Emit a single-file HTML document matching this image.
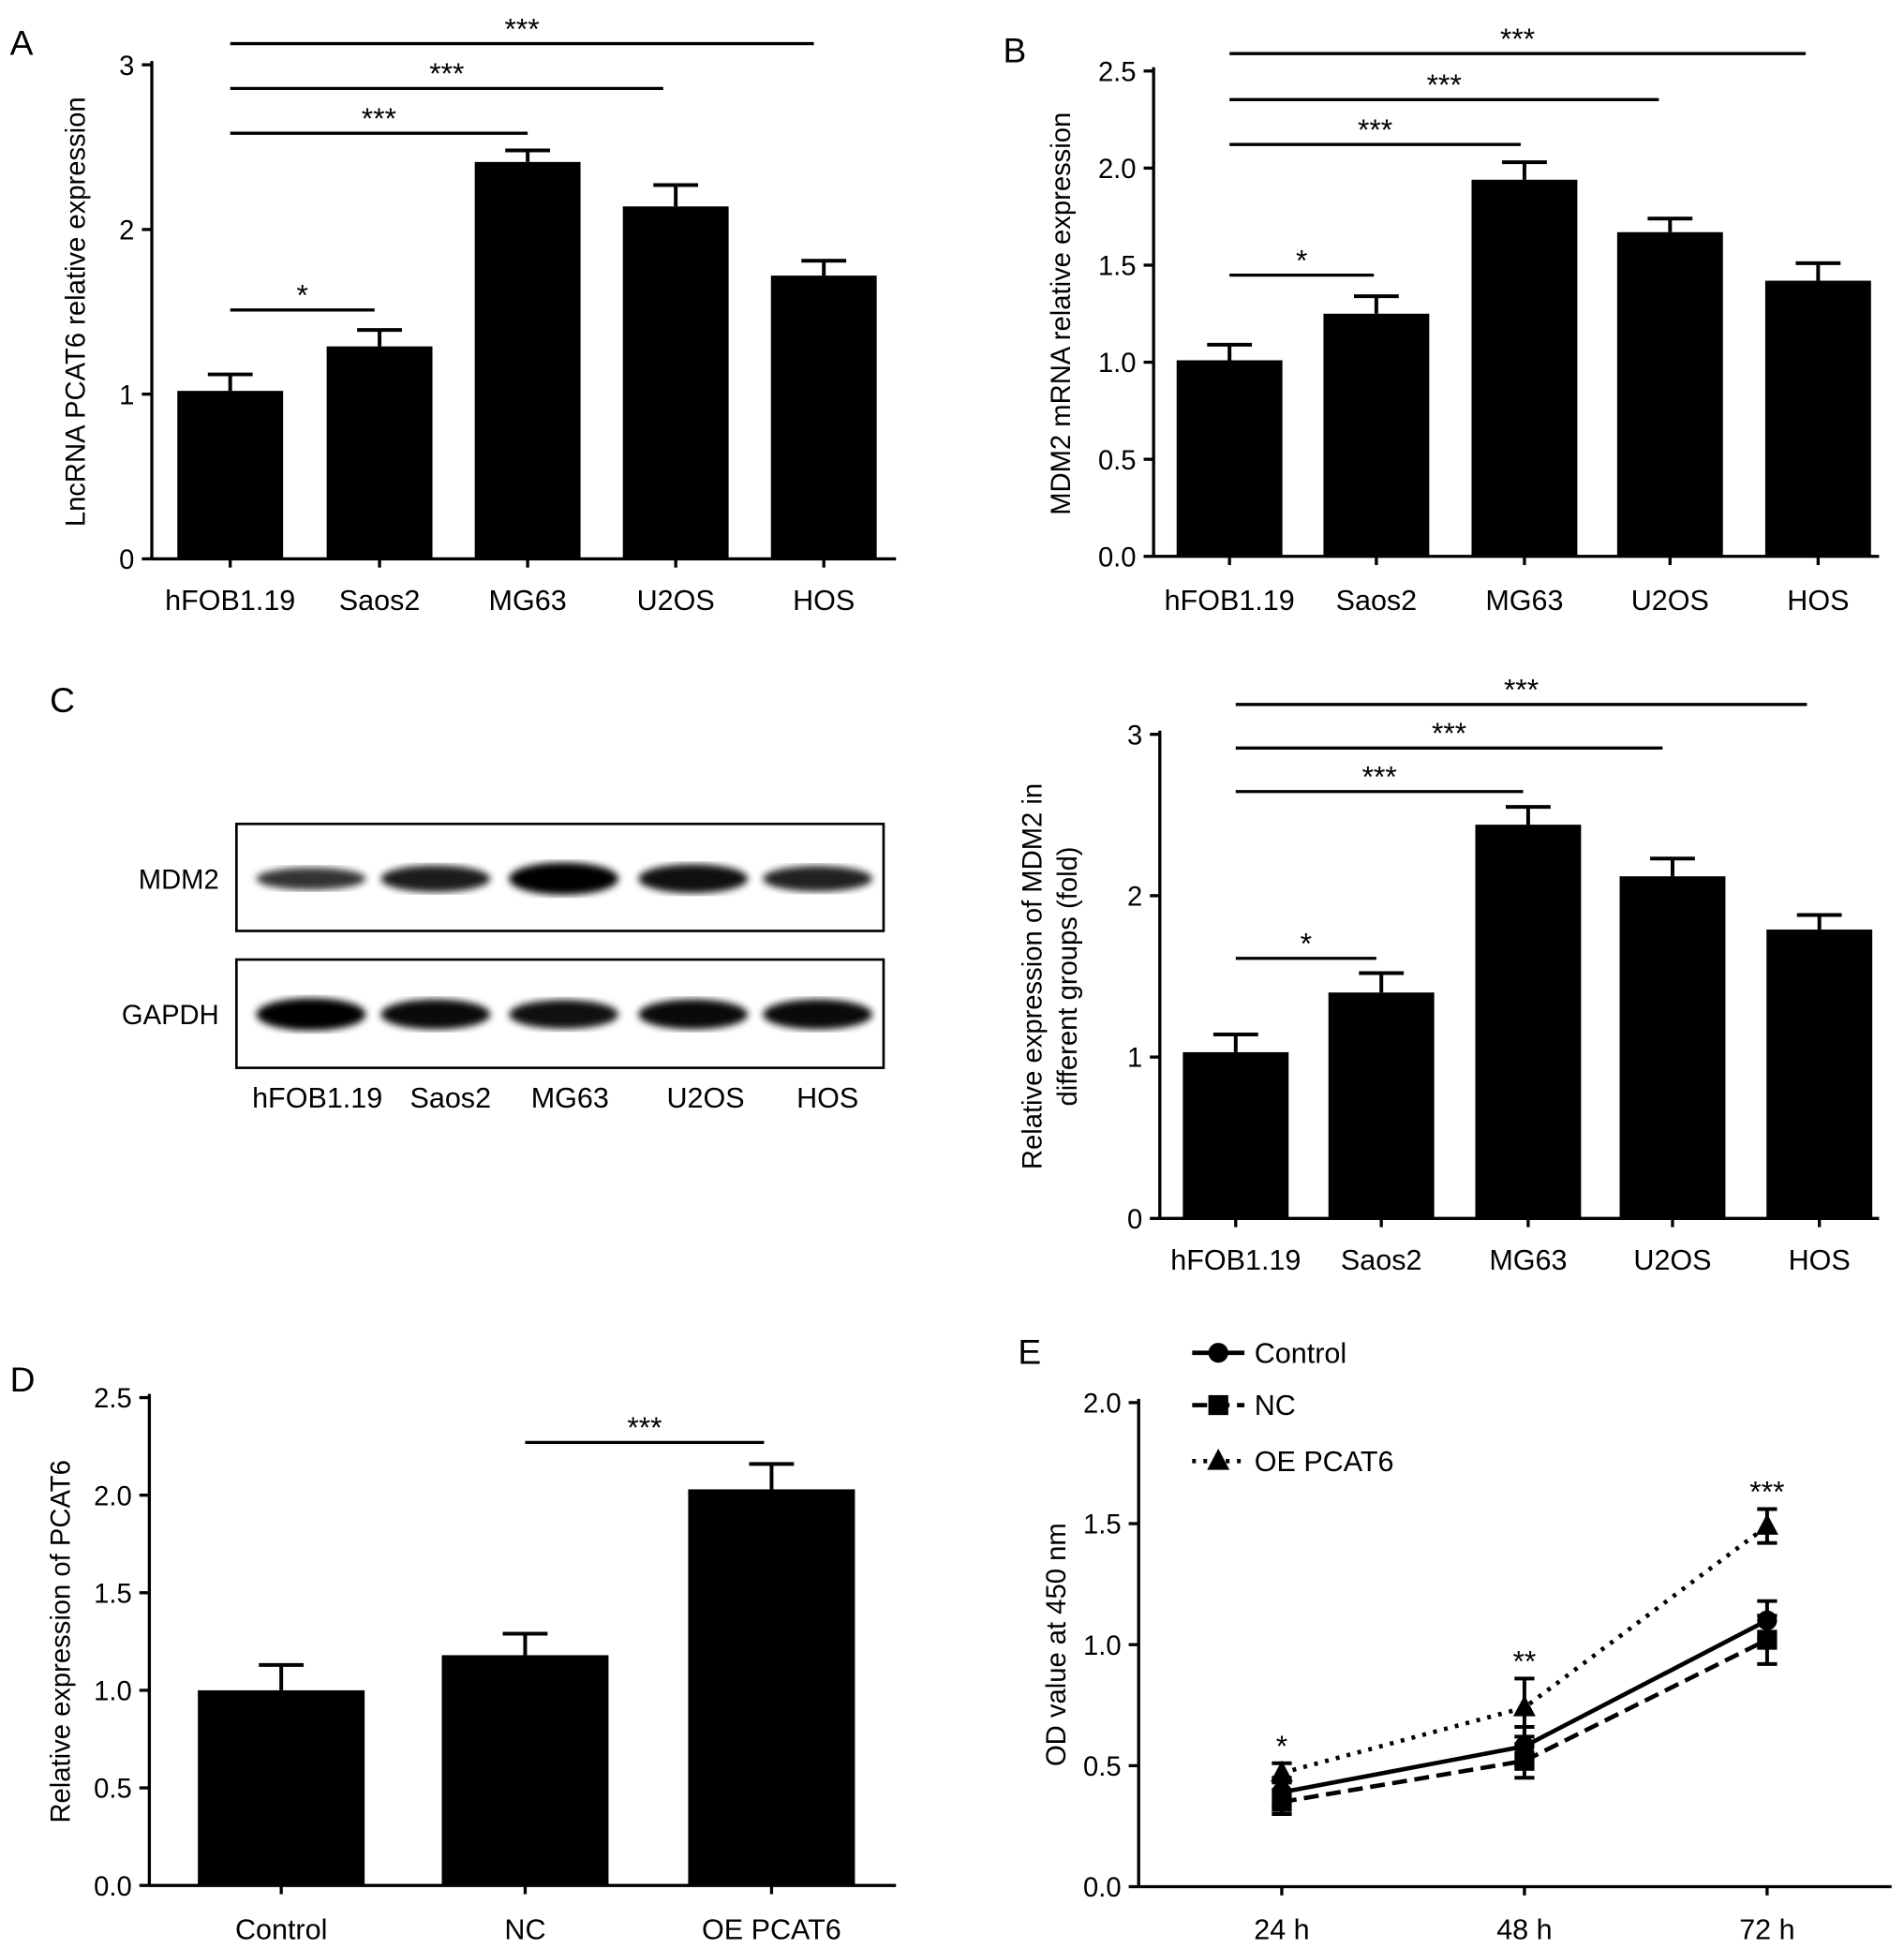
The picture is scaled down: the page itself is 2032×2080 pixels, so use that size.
<!DOCTYPE html>
<html><head><meta charset="utf-8"><style>html,body{margin:0;padding:0;background:#fff}svg{display:block}text{font-family:"Liberation Sans",sans-serif;fill:#000}</style></head>
<body>
<svg id="fig" width="2032" height="2080" viewBox="0 0 1530 1566" xmlns="http://www.w3.org/2000/svg"></svg>
<script>
const cellLines = ["hFOB1.19","Saos2","MG63","U2OS","HOS"];
const aValues = [1.02,1.29,2.41,2.14,1.72];
const aErr = [0.10,0.10,0.07,0.13,0.09];
const aTicks = [0,1,2,3];
const bValues = [1.01,1.25,1.94,1.67,1.42];
const bErr = [0.08,0.09,0.09,0.07,0.09];
const bTicks = ["0.0","0.5","1.0","1.5","2.0","2.5"];
const cValues = [1.03,1.40,2.44,2.12,1.79];
const cErr = [0.11,0.12,0.11,0.11,0.09];
const cTicks = [0,1,2,3];
const dGroups = ["Control","NC","OE PCAT6"];
const dValues = [1.00,1.18,2.03];
const dErr = [0.13,0.11,0.13];
const dTicks = ["0.0","0.5","1.0","1.5","2.0","2.5"];
const eTimes = ["24 h","48 h","72 h"];
const eControl = [0.39,0.58,1.10];
const eControlErr = [0.06,0.08,0.08];
const eNC = [0.35,0.52,1.02];
const eNCErr = [0.05,0.07,0.10];
const eOE = [0.47,0.74,1.49];
const eOEErr = [0.04,0.12,0.07];
const eTicks = ["0.0","0.5","1.0","1.5","2.0"];
const eStars = ["*","**","***"];
const blotMDM2 = [0.55,0.75,1.0,0.85,0.7];
const blotGAPDH = [1.0,0.9,0.85,0.9,0.9];

const NS="http://www.w3.org/2000/svg";
const svg=document.getElementById('fig');
function el(tag,attrs,parent,txt){const e=document.createElementNS(NS,tag);for(const k in attrs)e.setAttribute(k,attrs[k]);if(txt!==undefined)e.textContent=txt;(parent||svg).appendChild(e);return e;}
function g(name){const e=el('g',{});return e;}
function txt(p,x,y,s,size,anchor,name,extra){const t=el('text',Object.assign({x:x,y:y,'font-size':size,'text-anchor':anchor||'middle'},extra||{}),p,s);return t;}

function barPanel(o){
  const p=g(o.name);
  const ys=v=>o.y0-(v/o.ymax)*(o.y0-o.ytop);
  el('line',{x1:o.ax,y1:o.ytop-3,x2:o.ax,y2:o.y0,stroke:'#000','stroke-width':2.5},p);
  el('line',{x1:o.ax,y1:o.y0,x2:o.xend,y2:o.y0,stroke:'#000','stroke-width':2.5},p);
  o.ticks.forEach((t,i)=>{const v=o.ymax*i/(o.ticks.length-1);const y=ys(v);
    el('line',{x1:o.ax-8,y1:y,x2:o.ax,y2:y,stroke:'#000','stroke-width':2.5},p);
    txt(p,o.ax-14,y+8,String(t),22,'end','y-tick-label');});
  o.cats.forEach((c,i)=>{const cx=o.cx[i];
    const b=el('rect',{x:cx-o.bw/2,y:ys(o.vals[i]),width:o.bw,height:o.y0-ys(o.vals[i]),fill:'#000'},p);
    
    const yt=ys(o.vals[i]+o.err[i]);
    el('line',{x1:cx,y1:yt,x2:cx,y2:ys(o.vals[i]),stroke:'#000','stroke-width':3},p);
    el('line',{x1:cx-18,y1:yt,x2:cx+18,y2:yt,stroke:'#000','stroke-width':3},p);
    el('line',{x1:cx,y1:o.y0,x2:cx,y2:o.y0+7,stroke:'#000','stroke-width':2.5},p);
    txt(p,cx,o.labY,c,23,'middle','x-tick-label');});
  txt(p,0,0,o.ytitle,22,'middle','y-axis-title',{transform:`translate(${o.tx},${(o.ytop+o.y0)/2}) rotate(-90)`});
  if(o.ytitle2)txt(p,0,0,o.ytitle2,22,'middle','y-axis-title',{transform:`translate(${o.tx+28},${(o.ytop+o.y0)/2}) rotate(-90)`});
  o.sig.forEach(s=>{el('line',{x1:s[0],y1:s[2],x2:s[1],y2:s[2],stroke:'#000','stroke-width':2.5},p);
    txt(p,(s[0]+s[1])/2,s[2]-4,s[3],24,'middle','significance-mark');});
  txt(p,o.lx,o.ly,o.letter,28,'start','panel-label');
}
barPanel({name:'panel-a',letter:'A',lx:8,ly:44,ax:122,y0:449,ytop:52,ymax:3,xend:720,ticks:aTicks,cats:cellLines,vals:aValues,err:aErr,cx:[185,305,424,543,662],bw:85,labY:490,ytitle:'LncRNA PCAT6 relative expression',tx:68,
 sig:[[185,301,249,'*'],[185,424,107,'***'],[185,533,71,'***'],[185,654,35,'***']]});
barPanel({name:'panel-b',letter:'B',lx:806,ly:50,ax:927,y0:447,ytop:57,ymax:2.5,xend:1510,ticks:bTicks,cats:cellLines,vals:bValues,err:bErr,cx:[988,1106,1225,1342,1461],bw:85,labY:490,ytitle:'MDM2 mRNA relative expression',tx:860,
 sig:[[988,1104,221,'*'],[988,1222,116,'***'],[988,1333,80,'***'],[988,1451,43,'***']]});
barPanel({name:'panel-c-chart',letter:'C',lx:40,ly:572,ax:932,y0:979,ytop:590,ymax:3,xend:1510,ticks:cTicks,cats:cellLines,vals:cValues,err:cErr,cx:[993,1110,1228,1344,1462],bw:85,labY:1020,ytitle:'Relative expression of MDM2 in',ytitle2:'different groups (fold)',tx:837,
 sig:[[993,1106,770,'*'],[993,1224,636,'***'],[993,1336,601,'***'],[993,1452,566,'***']]});
barPanel({name:'panel-d',letter:'D',lx:8,ly:1118,ax:120,y0:1515,ytop:1123,ymax:2.5,xend:720,ticks:dTicks,cats:dGroups,vals:dValues,err:dErr,cx:[226,422,620],bw:134,labY:1558,ytitle:'Relative expression of PCAT6',tx:56,
 sig:[[422,614,1159,'***']]});

// Western blot
(function(){const p=g('western-blot');const cx=[250,350,453,557,657];
 const defs=el('defs',{},p);const f=el('filter',{id:'blur'},defs);el('feGaussianBlur',{stdDeviation:3},f);
 [[662,748,blotMDM2,'MDM2',706],[771,858,blotGAPDH,'GAPDH',815]].forEach(r=>{
  el('rect',{x:190,y:r[0],width:520,height:r[1]-r[0],fill:'#fff',stroke:'#000','stroke-width':2},p);
  r[2].forEach((v,i)=>{const b=el('ellipse',{cx:cx[i],cy:r[4],rx:44,ry:4+9*v,fill:'#000',opacity:0.55+0.45*v,filter:'url(#blur)'},p);});
  txt(p,176,r[4]+8,r[3],22,'end','blot-row-label');});
 cellLines.forEach((c,i)=>txt(p,[255,362,458,567,665][i],890,c,23,'middle','lane-label'));})();

// Panel E
(function(){const p=g('panel-e');const ax=915,y0=1516,ytop=1127,ymax=2;const xs=[1030,1225,1420];
 const ys=v=>y0-(v/ymax)*(y0-ytop);
 el('line',{x1:ax,y1:ytop-3,x2:ax,y2:y0,stroke:'#000','stroke-width':2.5},p);
 el('line',{x1:ax,y1:y0,x2:1520,y2:y0,stroke:'#000','stroke-width':2.5},p);
 eTicks.forEach((t,i)=>{const y=ys(ymax*i/(eTicks.length-1));el('line',{x1:ax-8,y1:y,x2:ax,y2:y,stroke:'#000','stroke-width':2.5},p);txt(p,ax-14,y+8,t,22,'end','y-tick-label');});
 eTimes.forEach((t,i)=>{el('line',{x1:xs[i],y1:y0,x2:xs[i],y2:y0+7,stroke:'#000','stroke-width':2.5},p);txt(p,xs[i],1558,t,23,'middle','x-tick-label');});
 txt(p,0,0,'OD value at 450 nm',22,'middle','y-axis-title',{transform:`translate(856,${(ytop+y0)/2}) rotate(-90)`});
 txt(p,818,1096,'E',28,'start','panel-label');
 const series=[[eControl,eControlErr,'none','circle','Control',1087],[eNC,eNCErr,'12,6','square','NC',1129],[eOE,eOEErr,'3,6','triangle','OE PCAT6',1174]];
 function marker(x,y,shape,name){let m;if(shape==='circle')m=el('circle',{cx:x,cy:y,r:8,fill:'#000'},p);
  else if(shape==='square')m=el('rect',{x:x-8,y:y-8,width:16,height:16,fill:'#000'},p);
  else m=el('polygon',{points:`${x},${y-10} ${x-9},${y+7} ${x+9},${y+7}`,fill:'#000'},p);
  }
 series.forEach(s=>{const pts=s[0].map((v,i)=>xs[i]+','+ys(v)).join(' ');
  const l=el('polyline',{points:pts,fill:'none',stroke:'#000','stroke-width':3.5,'stroke-dasharray':s[2]},p);
  
  s[0].forEach((v,i)=>{const a=ys(v+s[1][i]),b=ys(v-s[1][i]);
   el('line',{x1:xs[i],y1:a,x2:xs[i],y2:b,stroke:'#000','stroke-width':3},p);
   el('line',{x1:xs[i]-8,y1:a,x2:xs[i]+8,y2:a,stroke:'#000','stroke-width':3},p);
   el('line',{x1:xs[i]-8,y1:b,x2:xs[i]+8,y2:b,stroke:'#000','stroke-width':3},p);
   marker(xs[i],ys(v),s[3],'point-'+s[4]);});
  el('line',{x1:958,y1:s[5],x2:1000,y2:s[5],stroke:'#000','stroke-width':3.5,'stroke-dasharray':s[2]},p);
  marker(979,s[5],s[3],'legend-marker');
  txt(p,1008,s[5]+8,s[4],23,'start','legend-entry');});
 eStars.forEach((s,i)=>{const top=Math.max(eControl[i]+eControlErr[i],eNC[i]+eNCErr[i],eOE[i]+eOEErr[i]);txt(p,xs[i],ys(top)-6,s,24,'middle','significance-mark');});
})();
</script>
</body></html>
